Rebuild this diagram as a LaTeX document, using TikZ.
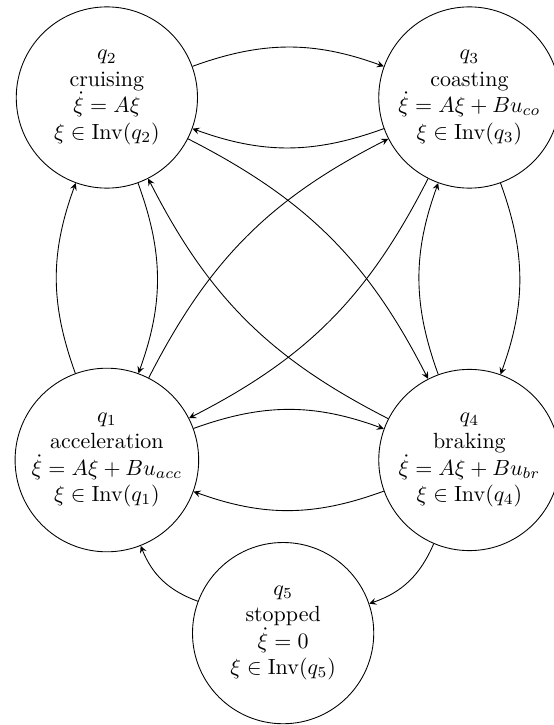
\documentclass[tikz,border=0pt]{standalone}
\usepackage{amsmath}
\usetikzlibrary{arrows}

\begin{document}
\begin{tikzpicture}[
    node distance=5.8cm,
    mode/.style={circle, draw, align=center, minimum size=2.9cm, inner sep=1pt},
    arrow/.style={->, >=stealth}
]
\useasboundingbox (-1.71,-4.24) rectangle (7.15,7.36);
\node[mode] (q1) {$q_1$\\acceleration\\$\dot{\xi} = A\xi + Bu_{acc}$\\$\xi \in \mathrm{Inv}(q_1)$};
\node[mode, above of=q1] (q2) {$q_2$\\cruising\\$\dot{\xi} = A\xi$\\$\xi \in \mathrm{Inv}(q_2)$};
\node[mode, right of=q2] (q3) {$q_3$\\coasting\\$\dot{\xi} = A\xi + Bu_{co}$\\$\xi \in \mathrm{Inv}(q_3)$};
\node[mode, right of=q1] (q4) {$q_4$\\braking\\$\dot{\xi} = A\xi + Bu_{br}$\\$\xi \in \mathrm{Inv}(q_4)$};
\node[mode, below of=q1, node distance=2.77cm, xshift=2.82cm] (q5) {$q_5$\\stopped\\$\dot{\xi} = 0$\\$\xi \in \mathrm{Inv}(q_5)$};

\draw[arrow] (q1) to[bend left=20] (q2);
\draw[arrow] (q2) to[bend left=20] (q1);
\draw[arrow] (q2) to[bend left=20] (q3);
\draw[arrow] (q3) to[bend left=20] (q2);
\draw[arrow] (q3) to[bend left=20] (q4);
\draw[arrow] (q4) to[bend left=20] (q3);
\draw[arrow] (q1) to[bend left=20] (q4);
\draw[arrow] (q4) to[bend left=20] (q1);
\draw[arrow] (q1) to[bend left=18] (q3);
\draw[arrow] (q3) to[bend left=18] (q1);
\draw[arrow] (q2) to[bend left=18] (q4);
\draw[arrow] (q4) to[bend left=18] (q2);
\draw[arrow] (q4) to[bend left=24] (q5);
\draw[arrow] (q5) to[bend left=24] (q1);
\end{tikzpicture}
\end{document}
